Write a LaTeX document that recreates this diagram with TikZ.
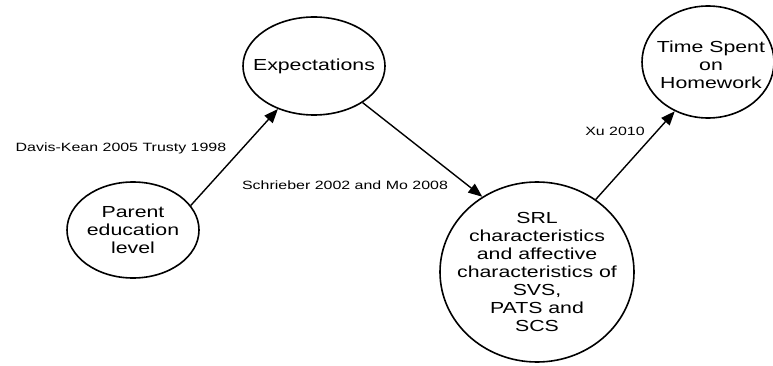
\documentclass[tikz,border=0pt]{standalone}
\usepackage{fontspec}
\setmainfont[FakeStretch=1.33]{Liberation Sans}
\usetikzlibrary{shapes.geometric,arrows.meta}
\begin{document}
\begin{tikzpicture}[x=1pt,y=-1pt,
  bubble/.style={draw, ellipse, line width=1.6pt, inner sep=0pt},
  bubtext/.style={align=center, inner sep=0pt, font=\fontsize{16}{18}\selectfont},
  cite/.style={inner sep=0pt, font=\fontsize{12}{14}\selectfont},
  link/.style={line width=1.4pt, -{Triangle[length=14pt,width=11pt]}}]
\useasboundingbox[fill=white] (0,0) rectangle (773,366);

% ellipses
\node[bubble, minimum width=142pt, minimum height=98pt]  (exp)  at (314,66)  {};
\node[bubble, minimum width=132pt, minimum height=96pt]  (par)  at (133,230) {};
\node[bubble, minimum width=194pt, minimum height=180pt] (srl)  at (537,272) {};
\node[bubble, minimum width=132pt, minimum height=112pt] (time) at (708,62)  {};

% ellipse texts
\node[bubtext] (expt)  at (exp)  {Expectations};
\node[bubtext] (part)  at (par)  {Parent\\education\\level};
\node[bubtext] (srlt)  at (srl)  {SRL\\characteristics\\and affective\\characteristics of\\SVS,\\PATS and\\SCS};
\node[bubtext] (timet) at (711,65) {Time Spent\\on\\Homework};

% connectors
\draw[link] (par.23)   -- (exp.230);
\draw[link] (exp.-37.6) -- (srl.126.3);
\draw[link] (srl.51.3) -- (time.236.6);

% citations
\node[cite] (c1) at (121,148) {Davis-Kean 2005 Trusty 1998};
\node[cite] (c2) at (345,185) {Schrieber 2002 and Mo 2008};
\node[cite] (c3) at (615,131) {Xu 2010};
\end{tikzpicture}
\end{document}
